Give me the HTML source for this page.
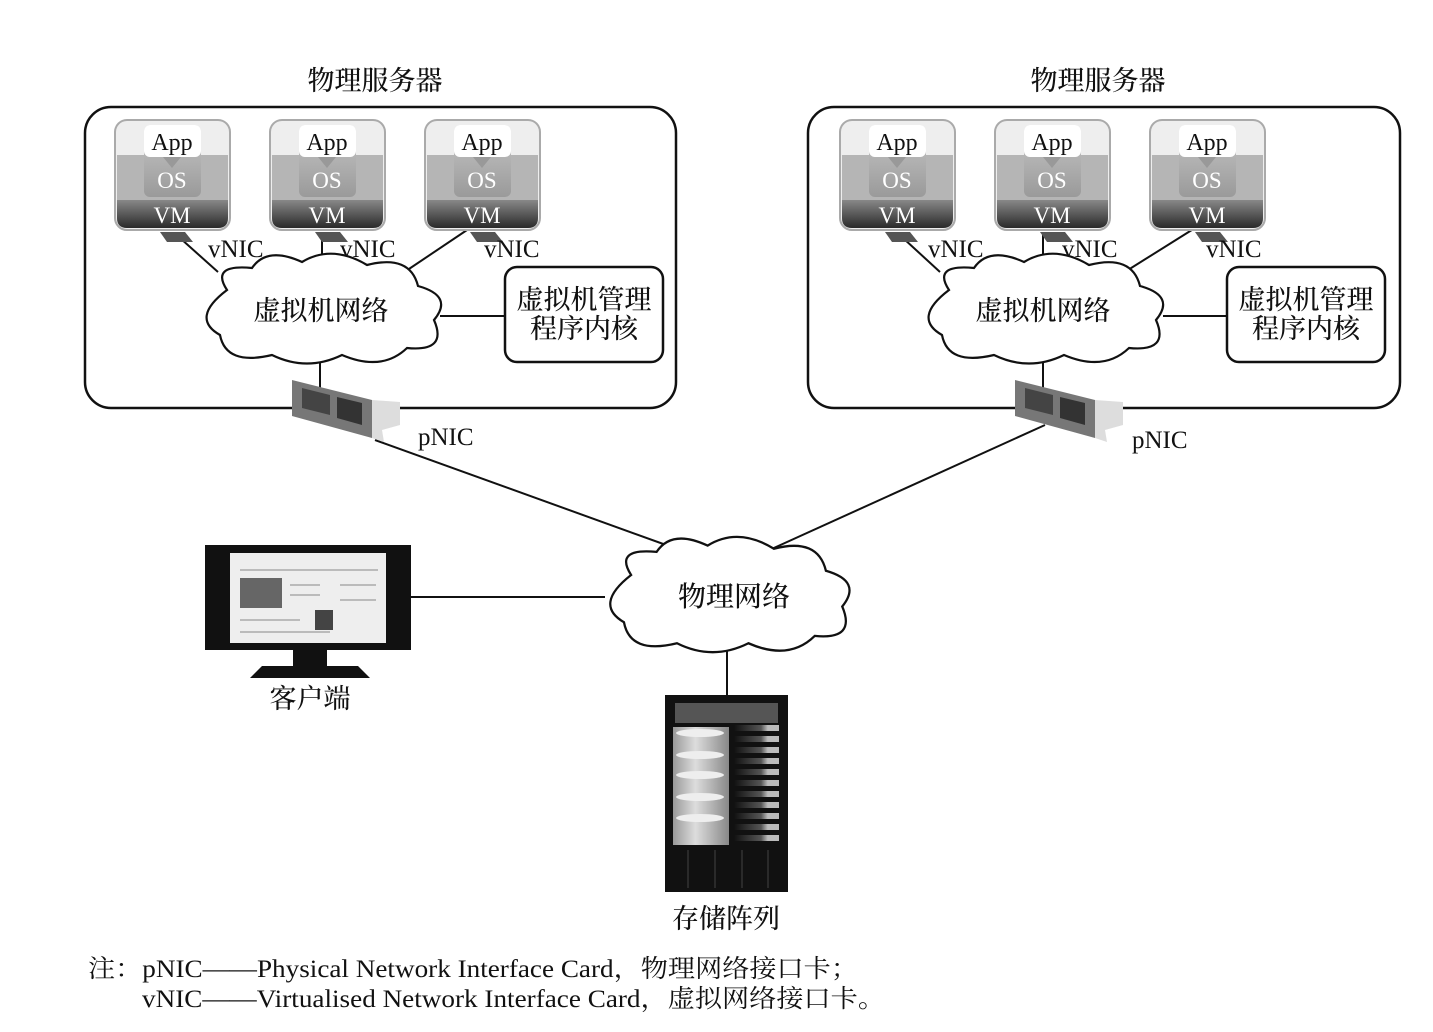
<!DOCTYPE html>
<html><head><meta charset="utf-8"><style>
html,body{margin:0;padding:0;background:#fff;}
svg{display:block;}
text{font-family:"Liberation Serif","Noto Serif CJK SC","Noto Sans CJK SC",serif;fill:#111;}
.cj{font-weight:500;}
</style></head><body>
<svg width="1433" height="1032" viewBox="0 0 1433 1032" xmlns="http://www.w3.org/2000/svg">
<defs>
<linearGradient id="vmd" x1="0" y1="0" x2="0" y2="1"><stop offset="0" stop-color="#888"/><stop offset="1" stop-color="#2a2a2a"/></linearGradient>
<linearGradient id="osg" x1="0" y1="0" x2="0" y2="1"><stop offset="0" stop-color="#c8c8c8"/><stop offset="1" stop-color="#9a9a9a"/></linearGradient>
<linearGradient id="cyl" x1="0" y1="0" x2="1" y2="0"><stop offset="0" stop-color="#999"/><stop offset=".4" stop-color="#ddd"/><stop offset="1" stop-color="#888"/></linearGradient>
<linearGradient id="slot" x1="0" y1="0" x2="1" y2="0"><stop offset="0" stop-color="#111"/><stop offset=".6" stop-color="#555"/><stop offset=".75" stop-color="#bbb"/><stop offset="1" stop-color="#bbb"/></linearGradient>
<g id="vm">
<rect x="0" y="0" width="115" height="110" rx="12" fill="#eee" stroke="#aaa" stroke-width="2"/>
<rect x="2" y="35" width="111" height="45" fill="#b5b5b5"/>
<path d="M2,80 H113 V98 Q113,108 103,108 H12 Q2,108 2,98 Z" fill="url(#vmd)"/>
<rect x="29" y="5" width="57" height="72" rx="6" fill="url(#osg)"/>
<rect x="29" y="5" width="57" height="32" rx="6" fill="#fff"/>
<path d="M48,37 H66 L57,48 Z" fill="#999"/>
<path d="M45,112 L70,112 L78,122 L52,122 Z" fill="#555"/>
</g>
<path id="cloud" d="M-95,-20 Q-112,-46 -70,-42 Q-55,-64 -20,-48 Q10,-66 45,-45 Q88,-56 96,-24 Q132,-14 112,10 Q126,42 85,38 Q60,62 20,45 Q-15,62 -50,45 Q-96,56 -102,25 Q-132,8 -95,-20 Z" fill="#fff" stroke="#111" stroke-width="2.2"/>
<g id="pnic">
<path d="M0,0 L80,20 L80,58 L0,36 Z" fill="#777"/>
<path d="M10,8 L38,15 L38,35 L10,28 Z" fill="#444"/>
<path d="M45,17 L70,23 L70,45 L45,38 Z" fill="#333"/>
<path d="M80,20 L108,22 L108,45 L90,50 L92,62 L80,58 Z" fill="#ddd"/>
</g>
</defs>

<g stroke="#111" stroke-width="2" fill="none">
<line x1="375" y1="440" x2="680" y2="550"/>
<line x1="1045" y1="425" x2="765" y2="552"/>
<line x1="410" y1="597" x2="605" y2="597"/>
<line x1="727" y1="640" x2="727" y2="695"/>
</g>

<rect x="85" y="107" width="591" height="301" rx="26" fill="none" stroke="#111" stroke-width="2.5"/>
<rect x="808" y="107" width="592" height="301" rx="26" fill="none" stroke="#111" stroke-width="2.5"/>
<text class="cj" x="375" y="90" font-size="27" text-anchor="middle">物理服务器</text>
<text class="cj" x="1098" y="90" font-size="27" text-anchor="middle">物理服务器</text>

<g stroke="#111" stroke-width="2">
<line x1="180" y1="238" x2="218" y2="272"/>
<line x1="322" y1="232" x2="322" y2="262"/>
<line x1="470" y1="228" x2="400" y2="275"/>
<line x1="440" y1="316" x2="505" y2="316"/>
<line x1="320" y1="350" x2="320" y2="388"/>
<line x1="903" y1="238" x2="940" y2="272"/>
<line x1="1043" y1="232" x2="1043" y2="262"/>
<line x1="1195" y1="228" x2="1120" y2="275"/>
<line x1="1163" y1="316" x2="1227" y2="316"/>
<line x1="1043" y1="350" x2="1043" y2="388"/>
</g>

<use href="#vm" x="115" y="120"/>
<use href="#vm" x="270" y="120"/>
<use href="#vm" x="425" y="120"/>
<use href="#vm" x="840" y="120"/>
<use href="#vm" x="995" y="120"/>
<use href="#vm" x="1150" y="120"/>
<g font-size="24">
<text x="172" y="150" text-anchor="middle">App</text>
<text x="327" y="150" text-anchor="middle">App</text>
<text x="482" y="150" text-anchor="middle">App</text>
<text x="897" y="150" text-anchor="middle">App</text>
<text x="1052" y="150" text-anchor="middle">App</text>
<text x="1207" y="150" text-anchor="middle">App</text>
</g>
<g font-size="23">
<text x="172" y="188" text-anchor="middle" style="fill:#fff">OS</text>
<text x="327" y="188" text-anchor="middle" style="fill:#fff">OS</text>
<text x="482" y="188" text-anchor="middle" style="fill:#fff">OS</text>
<text x="897" y="188" text-anchor="middle" style="fill:#fff">OS</text>
<text x="1052" y="188" text-anchor="middle" style="fill:#fff">OS</text>
<text x="1207" y="188" text-anchor="middle" style="fill:#fff">OS</text>
<text x="172" y="223" text-anchor="middle" style="fill:#fff">VM</text>
<text x="327" y="223" text-anchor="middle" style="fill:#fff">VM</text>
<text x="482" y="223" text-anchor="middle" style="fill:#fff">VM</text>
<text x="897" y="223" text-anchor="middle" style="fill:#fff">VM</text>
<text x="1052" y="223" text-anchor="middle" style="fill:#fff">VM</text>
<text x="1207" y="223" text-anchor="middle" style="fill:#fff">VM</text>
</g>
<g font-size="25">
<text x="208" y="257">vNIC</text>
<text x="340" y="257">vNIC</text>
<text x="484" y="257">vNIC</text>
<text x="928" y="257">vNIC</text>
<text x="1062" y="257">vNIC</text>
<text x="1206" y="257">vNIC</text>
</g>

<use href="#cloud" transform="translate(322,310)"/>
<use href="#cloud" transform="translate(1044,310)"/>
<text class="cj" x="321" y="320" font-size="27" text-anchor="middle">虚拟机网络</text>
<text class="cj" x="1043" y="320" font-size="27" text-anchor="middle">虚拟机网络</text>

<rect x="505" y="267" width="158" height="95" rx="12" fill="#fff" stroke="#111" stroke-width="2.5"/>
<rect x="1227" y="267" width="158" height="95" rx="12" fill="#fff" stroke="#111" stroke-width="2.5"/>
<g class="cj" font-size="27" text-anchor="middle">
<text x="584" y="309">虚拟机管理</text><text x="584" y="338">程序内核</text>
<text x="1306" y="309">虚拟机管理</text><text x="1306" y="338">程序内核</text>
</g>

<use href="#pnic" x="292" y="380"/>
<use href="#pnic" x="1015" y="380"/>
<text x="418" y="445" font-size="25">pNIC</text>
<text x="1132" y="448" font-size="25">pNIC</text>

<use href="#cloud" transform="translate(728,596) scale(1.02,1.05)"/>
<text class="cj" x="734" y="606" font-size="28" text-anchor="middle">物理网络</text>

<rect x="205" y="545" width="206" height="105" fill="#111"/>
<rect x="230" y="553" width="156" height="90" fill="#eee"/>
<rect x="240" y="578" width="42" height="30" fill="#666"/>
<rect x="315" y="610" width="18" height="20" fill="#444"/>
<g stroke="#bbb" stroke-width="2"><line x1="240" y1="570" x2="378" y2="570"/><line x1="290" y1="585" x2="320" y2="585"/><line x1="290" y1="595" x2="320" y2="595"/><line x1="340" y1="585" x2="376" y2="585"/><line x1="340" y1="600" x2="376" y2="600"/><line x1="240" y1="620" x2="300" y2="620"/><line x1="240" y1="632" x2="330" y2="632"/></g>
<rect x="293" y="650" width="34" height="16" fill="#111"/>
<path d="M262,666 H358 L370,678 H250 Z" fill="#111"/>
<text class="cj" x="310" y="708" font-size="27" text-anchor="middle">客户端</text>

<rect x="665" y="695" width="123" height="197" fill="#111"/>
<rect x="675" y="703" width="103" height="20" fill="#555"/>
<rect x="673" y="727" width="56" height="118" fill="url(#cyl)"/>
<g fill="#eee"><ellipse cx="700" cy="733" rx="24" ry="4"/><ellipse cx="700" cy="755" rx="24" ry="4"/><ellipse cx="700" cy="775" rx="24" ry="4"/><ellipse cx="700" cy="797" rx="24" ry="4"/><ellipse cx="700" cy="818" rx="24" ry="4"/></g>
<g fill="url(#slot)">
<rect x="734" y="725" width="45" height="6"/><rect x="734" y="736" width="45" height="6"/><rect x="734" y="747" width="45" height="6"/><rect x="734" y="758" width="45" height="6"/><rect x="734" y="769" width="45" height="6"/><rect x="734" y="780" width="45" height="6"/><rect x="734" y="791" width="45" height="6"/><rect x="734" y="802" width="45" height="6"/><rect x="734" y="813" width="45" height="6"/><rect x="734" y="824" width="45" height="6"/><rect x="734" y="835" width="45" height="6"/>
</g>
<g stroke="#333" stroke-width="1.5"><line x1="688" y1="850" x2="688" y2="888"/><line x1="715" y1="850" x2="715" y2="888"/><line x1="742" y1="850" x2="742" y2="888"/><line x1="768" y1="850" x2="768" y2="888"/></g>
<text class="cj" x="726" y="928" font-size="27" text-anchor="middle">存储阵列</text>

<g font-size="25">
<text x="88" y="977" textLength="770" lengthAdjust="spacingAndGlyphs">注：pNIC——Physical Network Interface Card，物理网络接口卡；</text>
<text x="142" y="1007" textLength="743" lengthAdjust="spacingAndGlyphs">vNIC——Virtualised Network Interface Card，虚拟网络接口卡。</text>
</g>
</svg>
</body></html>
